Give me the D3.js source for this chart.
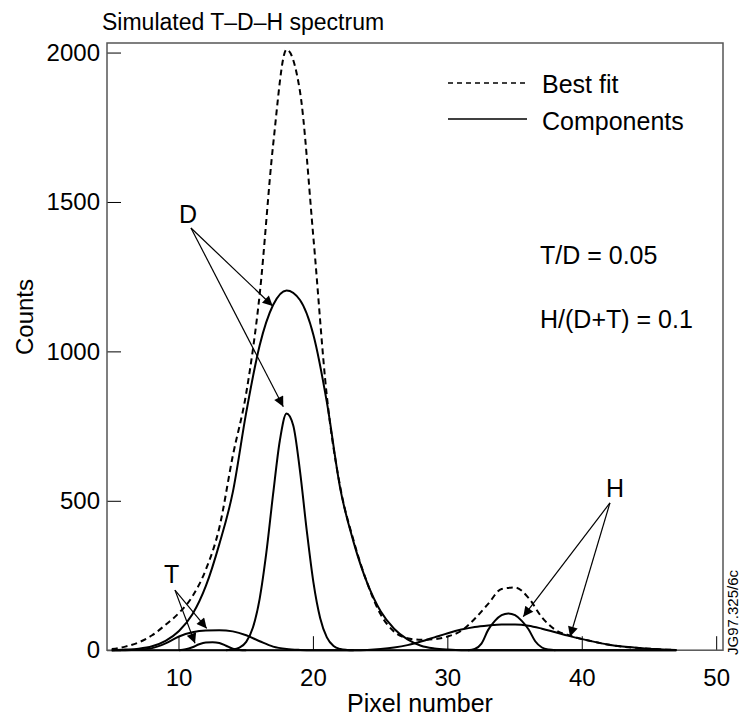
<!DOCTYPE html>
<html>
<head>
  <meta charset="utf-8">
  <script src="https://d3js.org/d3.v7.min.js"></script>
  <style>
    body { margin: 0; background: #fff; }
    text { font-family: "Liberation Sans", Arial, Helvetica, sans-serif; fill: #000; }
  </style>
</head>
<body>
<script>
// pixel numbers used by the broad components and the fit
var pixels = [5,6,7,8,9,10,11,12,13,14,15,16,17,18,19,20,21,22,23,24,25,26,
              27,28,29,30,31,32,33,34,35,36,37,38,39,40,41,42,43,44,45,46,47];

var dBroad  = [0,2,5,13,31,64,120,215,355,528,795,1020,1155,1204,1172,1055,830,540,360,225,130,72,
               36,15,6,2,0,0,0,0,0,0,0,0,0,0,0,0,0,0,0,0,0];
var tBroad  = [0,0,2,7,23,46,60,66,67,63,50,30,12,4,1,0,0,0,0,0,0,0,
               0,0,0,0,0,0,0,0,0,0,0,0,0,0,0,0,0,0,0,0,0];
var hBroad  = [0,0,0,0,0,0,0,0,0,0,0,0,0,0,0,0,0,0,0,1,4,9,
               17,29,43,57,69,78,83,86,86,82,72,60,48,37,27,18,12,8,5,2,1];
var bestFit = [4,12,26,50,85,125,180,270,410,650,860,1190,1690,2010,1870,1380,850,545,365,225,120,62,
               40,35,37,46,65,105,155,205,210,175,110,68,50,37,27,18,12,8,5,2,1];

// narrow components, sampled every half pixel
var dNarrowPx = [13.5,14,14.5,15,15.5,16,16.5,17,17.5,18,18.5,19,19.5,20,20.5,21,21.5,22,22.5,23];
var dNarrow   = [0,2,9,28,76,172,327,522,701,792,752,600,402,227,108,43,14,4,1,0];
var tNarrowPx = [10,10.5,11,11.5,12,12.5,13,13.5,14,14.5,15];
var tNarrow   = [0,3,10,20,26,27,24,15,5,1,0];
var hNarrowPx = [31.5,32,32.5,33,33.5,34,34.5,35,35.5,36,36.5,37,37.5,38];
var hNarrow   = [0,4,22,68,98,117,123,117,98,70,30,9,2,0];

var xTicks = [10,20,30,40,50];
var yTicks = [0,500,1000,1500,2000];

// peak labels with their arrows (data coordinates)
var peakLabels = [
  {name: "D", at: [10.67, 1430], from: [10.89, 1413], to: [[16.97, 1152], [17.76, 815]]},
  {name: "T", at: [9.46, 225],   from: [9.70, 201],   to: [[12.06, 73], [11.19, 23]]},
  {name: "H", at: [42.43, 513],  from: [42.06, 493],  to: [[35.61, 112], [39.09, 45]]}
];

var W = 741, H = 717;
var plotL = 107, plotR = 723, plotT = 43, plotB = 650.2;

var x = d3.scaleLinear().domain([4.644, 50.47]).range([plotL, plotR]);
var y = d3.scaleLinear().domain([0, 2032]).range([plotB, plotT]);

var svg = d3.select("body").append("svg")
    .attr("width", W)
    .attr("height", H);

var defs = svg.append("defs");
defs.append("marker")
    .attr("id", "arrow")
    .attr("markerUnits", "userSpaceOnUse")
    .attr("viewBox", "0 0 10 10")
    .attr("refX", 10).attr("refY", 5)
    .attr("markerWidth", 11).attr("markerHeight", 10)
    .attr("orient", "auto")
  .append("path")
    .attr("d", "M0,0 L10,5 L0,10 Z")
    .attr("fill", "#000");

// axes: y with d3 axis, x ticks drawn with the scale
var yAxis = d3.axisLeft(y).tickValues(yTicks).tickFormat(d3.format("d"))
    .tickSize(-14).tickPadding(7);
var gy = svg.append("g").attr("transform", "translate(" + plotL + ",0)").call(yAxis);
gy.select(".domain").remove();
gy.selectAll("text").style("font-size", "24px");
gy.selectAll("line").attr("stroke", "#000");

var gx = svg.append("g").attr("class", "xaxis");
gx.selectAll("line")
    .data(xTicks)
  .enter().append("line")
    .attr("x1", function (d) { return x(d); })
    .attr("x2", function (d) { return x(d); })
    .attr("y1", plotB).attr("y2", plotB - 14)
    .attr("stroke", "#000");
gx.selectAll("text")
    .data(xTicks)
  .enter().append("text")
    .attr("x", function (d) { return x(d); })
    .attr("y", 686)
    .attr("text-anchor", "middle")
    .style("font-size", "24px")
    .text(function (d) { return d; });

svg.append("rect")
    .attr("x", plotL).attr("y", plotT)
    .attr("width", plotR - plotL).attr("height", plotB - plotT)
    .attr("fill", "none")
    .attr("stroke", "#555")
    .attr("stroke-width", 1.5);

// curves
var line = d3.line()
    .x(function (d) { return x(d[0]); })
    .y(function (d) { return y(d[1]); })
    .curve(d3.curveMonotoneX);

function pts(xs, ys) { return xs.map(function (v, i) { return [v, ys[i]]; }); }

var components = [
  pts(pixels, dBroad), pts(pixels, tBroad), pts(pixels, hBroad),
  pts(dNarrowPx, dNarrow), pts(tNarrowPx, tNarrow), pts(hNarrowPx, hNarrow)
];

svg.selectAll("path.comp")
    .data(components)
  .enter().append("path")
    .attr("class", "comp")
    .attr("d", line)
    .attr("fill", "none")
    .attr("stroke", "#000")
    .attr("stroke-width", 2);

svg.append("path")
    .attr("d", line(pts(pixels, bestFit)))
    .attr("fill", "none")
    .attr("stroke", "#000")
    .attr("stroke-width", 2)
    .attr("stroke-dasharray", "6,4");

// peak labels and arrows
peakLabels.forEach(function (p) {
  svg.append("text")
      .attr("x", x(p.at[0])).attr("y", y(p.at[1]))
      .attr("text-anchor", "middle")
      .style("font-size", "25px")
      .text(p.name);
  p.to.forEach(function (t) {
    svg.append("line")
        .attr("x1", x(p.from[0])).attr("y1", y(p.from[1]))
        .attr("x2", x(t[0])).attr("y2", y(t[1]))
        .attr("stroke", "#000")
        .attr("stroke-width", 1.2)
        .attr("marker-end", "url(#arrow)");
  });
});

// legend
svg.append("line")
    .attr("x1", 448).attr("x2", 527).attr("y1", 83).attr("y2", 83)
    .attr("stroke", "#000").attr("stroke-width", 1.3)
    .attr("stroke-dasharray", "5,4");
svg.append("line")
    .attr("x1", 448).attr("x2", 527).attr("y1", 119).attr("y2", 119)
    .attr("stroke", "#000").attr("stroke-width", 1.5);
svg.append("text").attr("x", 542).attr("y", 93).style("font-size", "25px").text("Best fit");
svg.append("text").attr("x", 542).attr("y", 130).style("font-size", "25px").text("Components");

// ratios
svg.append("text").attr("x", 540).attr("y", 264).style("font-size", "25px").text("T/D = 0.05");
svg.append("text").attr("x", 540).attr("y", 328).style("font-size", "25px").text("H/(D+T) = 0.1");

// titles
svg.append("text").attr("x", 102).attr("y", 30).style("font-size", "23px").text("Simulated T\u2013D\u2013H spectrum");
svg.append("text").attr("x", (plotL + plotR) / 2 + 5).attr("y", 712)
    .attr("text-anchor", "middle").style("font-size", "25px").text("Pixel number");
svg.append("text")
    .attr("transform", "translate(33,317) rotate(-90)")
    .attr("text-anchor", "middle").style("font-size", "24px").text("Counts");
svg.append("text")
    .attr("transform", "translate(738,655) rotate(-90)")
    .style("font-size", "15px").text("JG97.325/6c");
</script>
</body>
</html>
